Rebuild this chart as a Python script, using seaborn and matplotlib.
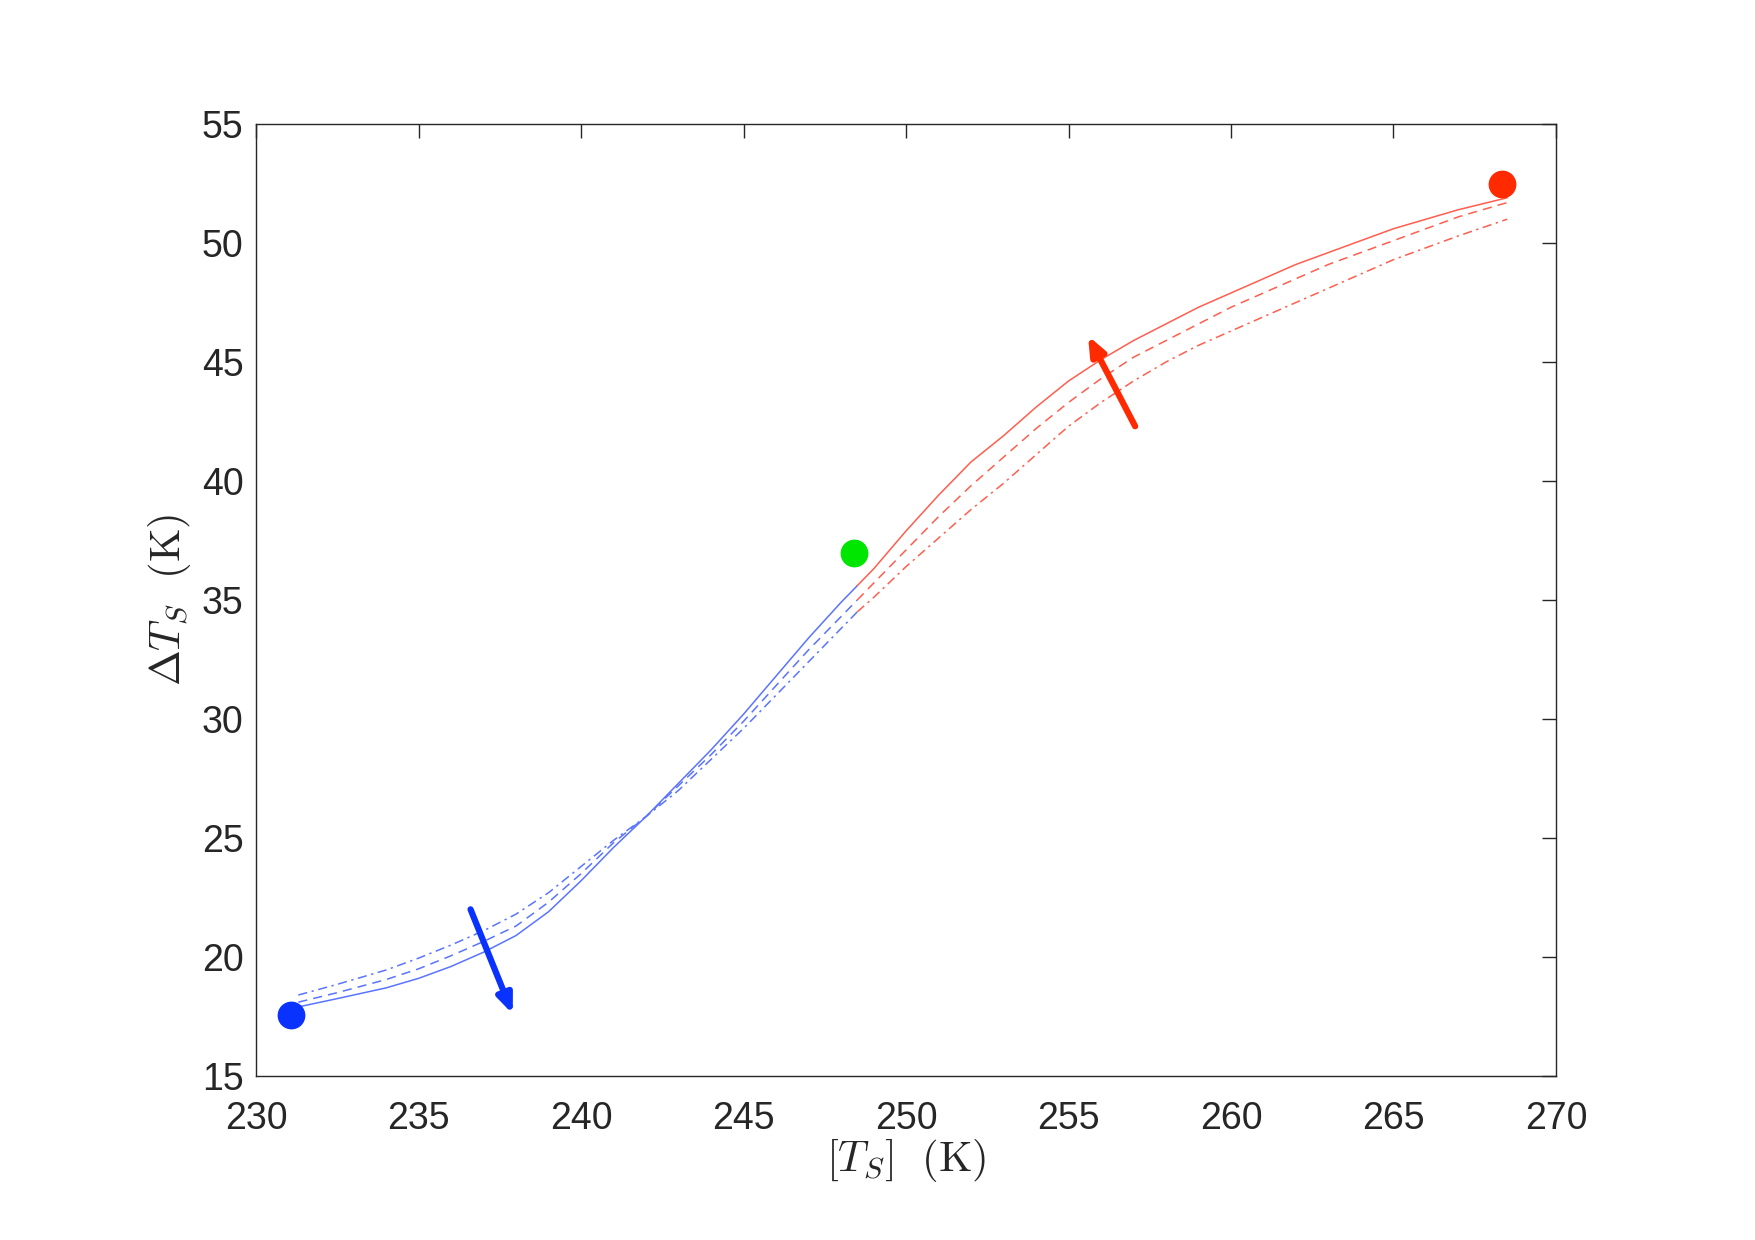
import matplotlib
matplotlib.use("Agg")
import matplotlib.pyplot as plt
import seaborn as sns

# data
x_cold = [231.3, 232.5, 234, 235, 236, 237, 238, 239, 240, 241, 242, 243, 244, 245, 246, 247, 248, 248.5]
cold_solid = [17.9, 18.25, 18.7, 19.1, 19.6, 20.2, 20.9, 21.9, 23.2, 24.6, 25.9, 27.3, 28.7, 30.2, 31.8, 33.4, 34.9, 35.6]
cold_dash = [18.1, 18.5, 19.05, 19.5, 20.05, 20.65, 21.3, 22.3, 23.5, 24.8, 25.9, 27.2, 28.5, 29.9, 31.4, 32.9, 34.3, 35.0]
cold_dashdot = [18.4, 18.85, 19.45, 19.95, 20.5, 21.1, 21.8, 22.7, 23.8, 24.9, 25.9, 27.0, 28.3, 29.6, 31.0, 32.4, 33.8, 34.5]

x_warm = [248.5, 249, 250, 251, 252, 253, 254, 255, 256, 257, 258, 259, 260, 261, 262, 263, 264, 265, 266, 267, 268.5]
warm_solid = [35.6, 36.3, 37.9, 39.4, 40.8, 41.9, 43.1, 44.2, 45.1, 45.9, 46.6, 47.3, 47.9, 48.5, 49.1, 49.6, 50.1, 50.6, 51.0, 51.4, 51.9]
warm_dash = [35.0, 35.7, 37.1, 38.5, 39.8, 41.0, 42.2, 43.3, 44.3, 45.2, 45.9, 46.6, 47.3, 47.9, 48.5, 49.1, 49.6, 50.1, 50.6, 51.1, 51.7]
warm_dashdot = [34.5, 35.1, 36.4, 37.6, 38.8, 39.9, 41.1, 42.3, 43.3, 44.2, 45.0, 45.7, 46.3, 46.9, 47.5, 48.1, 48.7, 49.3, 49.8, 50.3, 51.0]

# end points (cold, mean, warm)
pt_x = [231.07, 248.4, 268.35]
pt_y = [17.54, 36.98, 52.46]
pt_colors = ["#0a32ff", "#00e600", "#ff2a00"]

# arrows: (tail, head)
arrow_cold = ((236.6, 22.0), (237.9, 17.6))
arrow_warm = ((257.05, 42.3), (255.6, 46.1))

sns.set_style("white")
plt.rcParams["font.family"] = ["Liberation Sans", "DejaVu Sans"]
plt.rcParams["mathtext.fontset"] = "cm"

fig = plt.figure(figsize=(17.55, 12.4), dpi=100)
ax = fig.add_axes([0.1459, 0.1323, 0.7407, 0.7677])

blue = "#5a74ff"
red = "#ff5e4e"
styles = [("-", None), ("--", (6, 4)), ("-.", (6, 3, 1.5, 3))]
for ys, (ls, dash) in zip([cold_solid, cold_dash, cold_dashdot], styles):
    line = sns.lineplot(x=x_cold, y=ys, ax=ax, color=blue, linestyle=ls, linewidth=1.1).lines[-1]
    if dash:
        line.set_dashes(dash)
for ys, (ls, dash) in zip([warm_solid, warm_dash, warm_dashdot], styles):
    line = sns.lineplot(x=x_warm, y=ys, ax=ax, color=red, linestyle=ls, linewidth=1.1).lines[-1]
    if dash:
        line.set_dashes(dash)

for px, py, c in zip(pt_x, pt_y, pt_colors):
    ax.plot(px, py, "o", color=c, markersize=19, zorder=5)

for (tail, head), c in [(arrow_cold, "#0a32ff"), (arrow_warm, "#ff2a00")]:
    ax.annotate("", xy=head, xytext=tail,
                arrowprops=dict(arrowstyle="-|>,head_length=1.1,head_width=0.45",
                                color=c, lw=4.5, shrinkA=0, shrinkB=0))

ax.set_xlim(230, 270)
ax.set_ylim(15, 55)
ax.set_xticks(range(230, 271, 5))
ax.set_yticks(range(15, 56, 5))
ax.tick_params(direction="in", length=10, width=1.0, colors="#262626",
               labelsize=27, top=True, right=True)
ax.tick_params(axis="x", pad=18)
ax.tick_params(axis="y", pad=9)
for s in ax.spines.values():
    s.set_color("#262626")
    s.set_linewidth(1.0)

ax.set_xlabel(r"$[T_S]\ \ (\mathrm{K})$", fontsize=31, color="#262626", labelpad=0)
ax.set_ylabel(r"$\Delta T_S\ \ (\mathrm{K})$", fontsize=31, color="#262626", labelpad=6)

fig.savefig("out.png", dpi=100, facecolor="white")
